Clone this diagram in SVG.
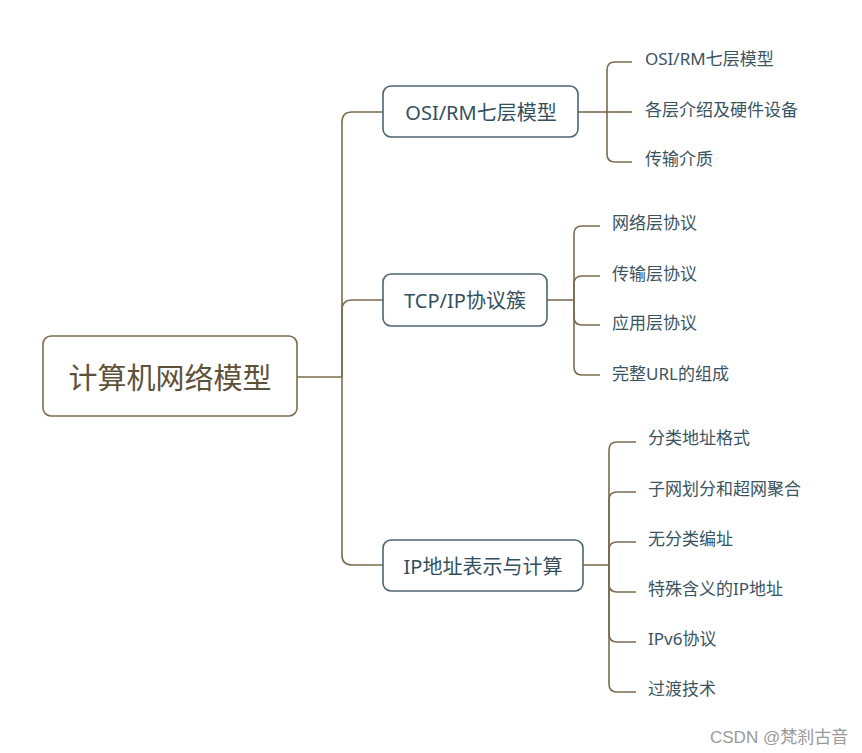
<svg xmlns="http://www.w3.org/2000/svg" width="862" height="753" viewBox="0 0 862 753">
<style>
.lnk{fill:none;stroke:#7b6c4f;stroke-width:1.6}
.root rect{fill:#fff;stroke:#7b6c4f;stroke-width:1.6}
.main rect{fill:#fff;stroke:#4e6572;stroke-width:1.6}
.root text{font-family:"Noto Sans","Noto Sans CJK SC",sans-serif;font-size:29px;fill:#5e5139;dominant-baseline:central;text-anchor:middle}
.main text{font-family:"Noto Sans","Noto Sans CJK SC",sans-serif;font-size:20px;fill:#34505e;dominant-baseline:central;text-anchor:middle}
.leaf text{font-family:"Noto Sans","Noto Sans CJK SC",sans-serif;font-size:17px;fill:#3b5461;dominant-baseline:central}
.wm{font-family:"Liberation Sans","Noto Sans CJK SC",sans-serif;font-size:17px;fill:#9a9a9a;dominant-baseline:central}
</style>
<rect width="862" height="753" fill="#fff"/>
<g id="connectors">
<path class="lnk" d="M297 377H342"/>
<path class="lnk" d="M342 377V122Q342 112 352 112H383"/>
<path class="lnk" d="M342 377V310Q342 300 352 300H383"/>
<path class="lnk" d="M342 377V555Q342 565 352 565H383"/>
<path class="lnk" d="M578 112H607"/>
<path class="lnk" d="M607 112V70Q607 62 615 62H632"/>
<path class="lnk" d="M607 112H632"/>
<path class="lnk" d="M607 112V154Q607 162 615 162H632"/>
<path class="lnk" d="M547 300H574"/>
<path class="lnk" d="M574 300V234Q574 226 582 226H600"/>
<path class="lnk" d="M574 300V284Q574 276 582 276H600"/>
<path class="lnk" d="M574 300V317Q574 325 582 325H600"/>
<path class="lnk" d="M574 300V367Q574 375 582 375H600"/>
<path class="lnk" d="M583 565H609"/>
<path class="lnk" d="M609 565V450Q609 442 617 442H636"/>
<path class="lnk" d="M609 565V500Q609 492 617 492H636"/>
<path class="lnk" d="M609 565V550Q609 542 617 542H636"/>
<path class="lnk" d="M609 565V584Q609 592 617 592H636"/>
<path class="lnk" d="M609 565V634Q609 642 617 642H636"/>
<path class="lnk" d="M609 565V684Q609 692 617 692H636"/>
</g>
<g id="root" class="root"><rect x="43" y="336" width="254" height="80" rx="8"/><text x="170" y="377">计算机网络模型</text></g>
<g id="n-osi" class="main"><rect x="383" y="86" width="195" height="51" rx="8"/><text x="481" y="112">OSI/RM七层模型</text></g>
<g id="n-tcp" class="main"><rect x="383" y="274" width="164" height="52" rx="8"/><text x="465" y="300">TCP/IP协议簇</text></g>
<g id="n-ip" class="main"><rect x="383" y="540" width="200" height="51" rx="8"/><text x="483" y="566">IP地址表示与计算</text></g>
<g id="leaf-osi" class="leaf">
<text x="645" y="58">OSI/RM七层模型</text>
<text x="645" y="109">各层介绍及硬件设备</text>
<text x="645" y="158">传输介质</text>
</g>
<g id="leaf-tcp" class="leaf">
<text x="612" y="222">网络层协议</text>
<text x="612" y="273">传输层协议</text>
<text x="612" y="322">应用层协议</text>
<text x="612" y="373">完整URL的组成</text>
</g>
<g id="leaf-ip" class="leaf">
<text x="648" y="437">分类地址格式</text>
<text x="648" y="488">子网划分和超网聚合</text>
<text x="648" y="538">无分类编址</text>
<text x="648" y="588">特殊含义的IP地址</text>
<text x="648" y="638">IPv6协议</text>
<text x="648" y="688">过渡技术</text>
</g>
<text class="wm" x="710" y="737">CSDN @梵刹古音</text>
</svg>
